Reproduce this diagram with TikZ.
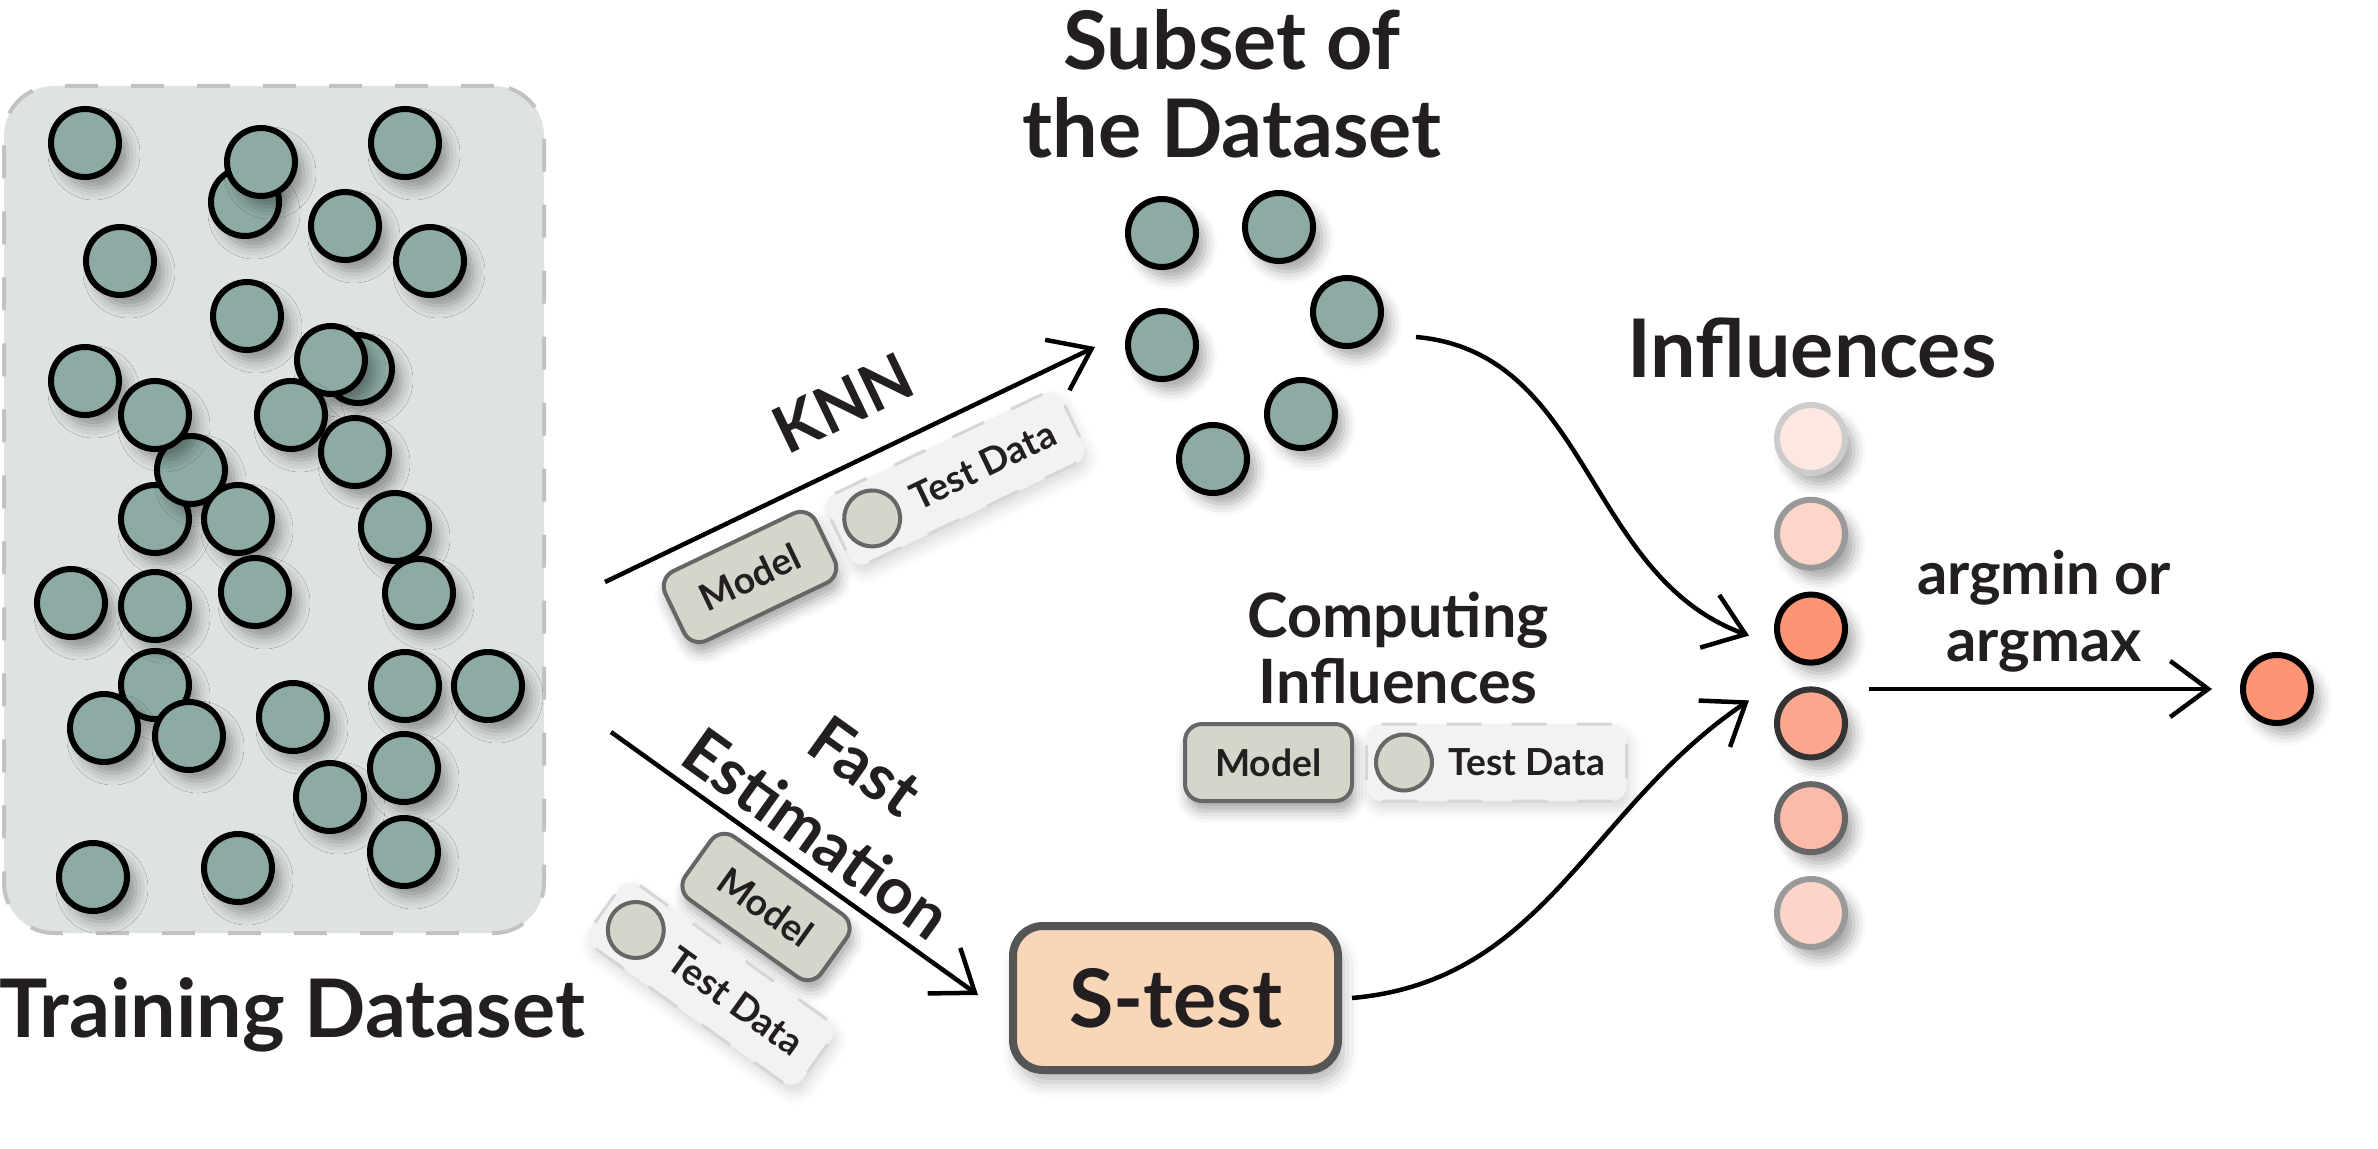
\documentclass[tikz,border=0pt]{standalone}
\usepackage{fontspec}
\setmainfont{Lato}
\usepackage{tikz}
\usetikzlibrary{positioning,calc,arrows.meta,shadows.blur}

\definecolor{ink}{HTML}{231F20}
\definecolor{dotfill}{HTML}{8DAAA5}
\definecolor{panelfill}{HTML}{DEE2E3}
\definecolor{paneledge}{HTML}{C2C2C2}
\definecolor{modelfill}{HTML}{D4D6CB}
\definecolor{modeledge}{HTML}{666666}
\definecolor{datafill}{HTML}{F2F3F0}
\definecolor{dataedge}{HTML}{D6D6D6}
\definecolor{stestfill}{HTML}{F8D6B8}
\definecolor{stestedge}{HTML}{555555}
\definecolor{infA}{HTML}{FDE8E1}
\definecolor{infB}{HTML}{FDD5C9}
\definecolor{infC}{HTML}{FD9474}
\definecolor{infD}{HTML}{FBA790}
\definecolor{infE}{HTML}{FCBBA8}
\definecolor{infF}{HTML}{FDD5C8}

\begin{document}
\begin{tikzpicture}[
        text=ink,
        datapt/.style={circle, draw=black, line width=0.06cm, fill=dotfill,
            minimum size=0.68cm, inner sep=0pt,
            blur shadow={shadow xshift=0.09cm, shadow yshift=-0.11cm,
                shadow blur radius=0.12cm, shadow opacity=35}},
        infdot/.style 2 args={datapt, fill=#1, draw=#2},
        panel/.style={draw=paneledge, line width=0.04cm,
            dash pattern=on 0.33cm off 0.33cm, fill=panelfill,
            rounded corners=0.5cm, minimum width=5.40cm, minimum height=8.47cm},
        headline/.style={font=\fontsize{23}{25}\selectfont\bfseries,
            inner sep=0pt, align=center},
        lbl/.style={font=\fontsize{18.5}{23.6}\selectfont\bfseries,
            inner sep=0pt, align=center},
        small/.style={font=\fontsize{10.6}{12}\selectfont\bfseries, inner sep=0pt},
        modelbox/.style={draw=modeledge, line width=0.04cm, fill=modelfill,
            rounded corners=0.17cm, minimum width=1.67cm, minimum height=0.77cm,
            small, blur shadow={shadow xshift=0.03cm, shadow yshift=-0.1cm,
                shadow blur radius=0.12cm, shadow opacity=35}},
        databox/.style={draw=dataedge, line width=0.03cm,
            dash pattern=on 0.35cm off 0.3cm, fill=datafill,
            rounded corners=0.15cm, minimum width=2.6cm, minimum height=0.77cm,
            blur shadow={shadow xshift=0.03cm, shadow yshift=-0.08cm,
                shadow blur radius=0.12cm, shadow opacity=15}},
        pebble/.style={circle, draw=modeledge, fill=modelfill, line width=0.04cm,
            minimum size=0.56cm, inner sep=0pt},
        stestbox/.style={draw=stestedge, line width=0.08cm, fill=stestfill,
            rounded corners=0.3cm, minimum width=3.25cm, minimum height=1.44cm,
            font=\fontsize{23}{26}\selectfont\bfseries,
            blur shadow={shadow xshift=0.05cm, shadow yshift=-0.12cm,
                shadow blur radius=0.15cm, shadow opacity=30}},
        arr/.style={line width=0.045cm,
            -{Straight Barb[length=0.38cm, width=0.56cm]}}
    ]
    \useasboundingbox (0,0) rectangle (23.78,-11.49);

    % training set
    \node[panel] (train) at (2.74,-5.095) {};
    \foreach \x/\y [count=\i] in {2.45/-2.02, 3.58/-3.69, 1.55/-6.85, 1.55/-5.19,
            1.91/-4.70, 0.85/-1.43, 2.61/-1.62, 4.05/-1.43, 3.45/-2.26,
            4.30/-2.61, 1.20/-2.61, 2.47/-3.16, 0.85/-3.81, 3.31/-3.60,
            1.55/-4.15, 2.91/-4.15, 3.55/-4.52, 2.38/-5.19, 3.95/-5.27,
            0.71/-6.03, 1.55/-6.06, 2.55/-5.92, 4.19/-5.93, 4.05/-6.86,
            4.88/-6.86, 1.04/-7.28, 1.89/-7.36, 2.93/-7.17, 3.30/-7.97,
            4.04/-7.68, 4.04/-8.52, 0.93/-8.77, 2.38/-8.68}
        \node[datapt] (t\i) at (\x,\y) {};
    \node[headline, anchor=base] (traintitle) at (2.92,-10.37) {Training Dataset};

    % subset
    \node[headline] (subtitle) at (12.32,-0.84) {Subset of\\the Dataset};
    \node[datapt] (sub1) at (11.62,-2.33) {};
    \node[datapt] (sub2) at (12.79,-2.27) {};
    \node[datapt] (sub3) at (13.47,-3.12) {};
    \node[datapt] (sub4) at (11.62,-3.45) {};
    \node[datapt] (sub5) at (13.01,-4.14) {};
    \node[datapt] (sub6) at (12.13,-4.59) {};

    % influences
    \node[headline, anchor=base] (inftitle) at (18.12,-3.77) {Influences};
    \foreach \f/\e [count=\i] in {infA/black!20, infB/black!40, infC/black,
            infD/black!80, infE/black!60, infF/black!40}
        \node[infdot={\f}{\e}] (inf\i) at (18.11,{-4.39-0.948*(\i-1)}) {};
    \node[infdot={infC}{black}] (best) at (22.77,-6.89) {};

    % KNN branch
    \coordinate (knnA) at (6.05,-5.82);
    \coordinate (knnB) at (10.95,-3.47);
    \draw[arr] (knnA) -- (knnB);
    \node[lbl, rotate=25.6] (knn) at (8.43,-4.03) {KNN};
    \begin{scope}[shift={(7.50,-5.77)}, rotate=25.6, transform shape]
        \node[modelbox] (km) {Model};
        \node[databox, right=0.11cm of km] (kd) {};
        \node[pebble, right=0.09cm of kd.west] (kp) {};
        \node[small, right=0.83cm of kd.west] (kt) {Test Data};
    \end{scope}

    % fast estimation branch
    \node[stestbox] (stest) at (11.755,-9.98) {S-test};
    \coordinate (fastA) at (6.11,-7.32);
    \coordinate (fastB) at (9.78,-9.95);
    \draw[arr] (fastA) -- (fastB);
    \node[lbl, rotate=-35.6] (fast) at (8.41,-8.00) {Fast\\Estimation};
    \begin{scope}[shift={(7.66,-9.07)}, rotate=-35.6, transform shape]
        \node[modelbox] (fm) {Model};
        \node[databox, below=0.14cm of fm] (fd) {};
        \node[pebble, right=0.09cm of fd.west] (fp) {};
        \node[small, right=0.83cm of fd.west] (ft) {Test Data};
    \end{scope}

    % computing influences
    \node[lbl, font=\fontsize{17.4}{18.5}\selectfont\bfseries] (comp)
        at (13.98,-6.48) {Computing\\Influences};
    \node[modelbox] (cm) at (12.685,-7.625) {Model};
    \node[databox, right=0.11cm of cm] (cd) {};
    \node[pebble, right=0.09cm of cd.west] (cp) {};
    \node[small, right=0.83cm of cd.west] (ct) {Test Data};

    % connectors
    \draw[arr] ($(sub3.east)+(0.32,-0.25)$) to[out=-5, in=160]
        ($(inf3.west)+(-0.25,-0.07)$);
    \draw[arr] ($(stest.east)+(0.1,0)$) to[out=5, in=214]
        ($(inf4.west)+(-0.25,0.23)$);
    \draw[arr, shorten <=0.21cm, shorten >=0.28cm] (inf3.east |- best.west)
        -- node[lbl, font=\fontsize{17}{19.3}\selectfont\bfseries,
            midway, above=0.14cm] (argm) {argmin or\\argmax} (best.west);
\end{tikzpicture}
\end{document}
